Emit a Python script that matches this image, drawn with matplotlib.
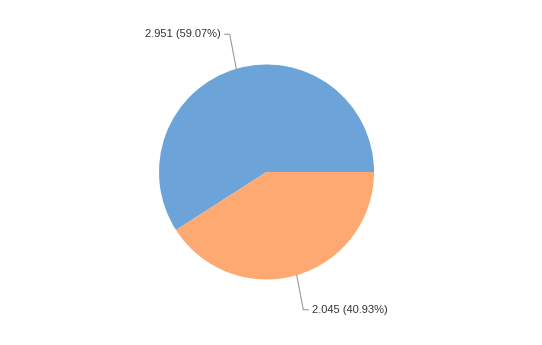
import numpy as np
import matplotlib
matplotlib.use("Agg")
import matplotlib.pyplot as plt

# ── Data ──────────────────────────────────────────────────────────
values = [2.951, 2.045]
percents = ["59.07%", "40.93%"]
colors = ["#6ca4d9", "#fea971"]

W, H = 542, 345
CX, CY, R = 266.5, H - 172, 107.5

fig = plt.figure(figsize=(W / 100, H / 100), dpi=100)
ax = fig.add_axes([0, 0, 1, 1])

wedges, _ = ax.pie(values, colors=colors, startangle=0, counterclock=True,
                   center=(CX, CY), radius=R, frame=True,
                   wedgeprops=dict(linewidth=0))
ax.set_xlim(0, W)
ax.set_ylim(0, H)
ax.set_aspect("equal")
ax.axis("off")

# ── Leader-line labels ────────────────────────────────────────────
for w, v, p in zip(wedges, values, percents):
    ang = np.deg2rad((w.theta1 + w.theta2) / 2)
    x0, y0 = CX + R * np.cos(ang), CY + R * np.sin(ang)
    # elbow: a bit steeper than the mid-angle ray
    x1 = x0 + 0.65 * 0.335 * R * np.cos(ang)
    y1 = CY + 1.335 * R * np.sin(ang)
    side = 1 if np.cos(ang) >= 0 else -1
    x2 = x1 + side * 5
    ax.plot([x0, x1, x2], [y0, y1, y1], color="#999999", lw=0.8,
            solid_joinstyle="miter")
    ax.text(x2 + side * 4, y1, f"{v:.3f} ({p})",
            ha="left" if side > 0 else "right", va="center",
            fontsize=8, family="Liberation Sans", color="#333333")

fig.savefig("out.png", dpi=100)
